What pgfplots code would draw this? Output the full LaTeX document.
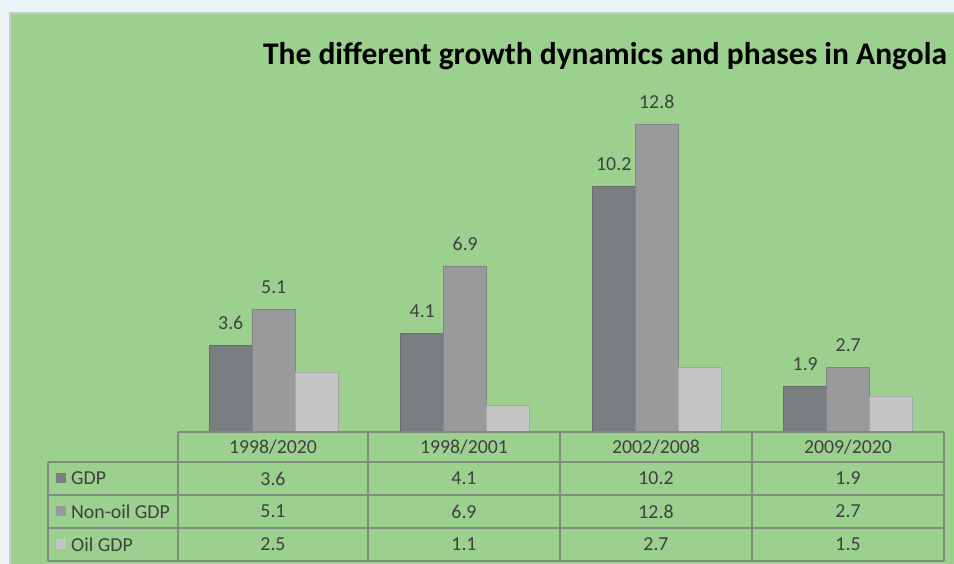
\documentclass[border=0pt]{standalone}
\usepackage{pgfplots}
\usepackage{pgfplotstable}
\pgfplotsset{compat=1.18}
\usepackage{fontspec}
\setmainfont{Carlito}
\definecolor{bgout}{HTML}{EAF4F6}
\definecolor{panel}{HTML}{9BD08F}
\definecolor{gdpc}{HTML}{7B7E80}
\definecolor{nonoilc}{HTML}{989A9C}
\definecolor{oilc}{HTML}{C4C5C5}
\definecolor{txt}{HTML}{404040}
\definecolor{grid}{HTML}{7F8A80}
\pgfplotstableread{
x gdp nonoil oil
1 3.6 5.1 2.5
2 4.1 6.9 1.1
3 10.2 12.8 2.7
4 1.9 2.7 1.5
}\data
\newcommand{\tf}{\fontsize{19.8}{22}\selectfont}
\begin{document}
\begin{tikzpicture}[x=1pt,y=1pt]
\path[use as bounding box] (0,0) rectangle (954,564);
\fill[bgout] (0,0) rectangle (954,564);
\filldraw[fill=panel,draw=black!20,line width=1.5pt] (10,-10) rectangle (975,551);
\node[font=\fontsize{31.5}{36}\selectfont\bfseries,text=black] at (605,508) {The different growth dynamics and phases in Angola};
\begin{axis}[
  at={(178pt,132pt)}, anchor=south west,
  scale only axis, width=766pt, height=336.9pt,
  xmin=0.5, xmax=4.5, ymin=0, ymax=14,
  hide axis, clip=false,
  ybar=0pt, bar width=43pt,
  nodes near coords style={font=\tf, text=txt, yshift=12pt},
]
\addplot[fill=gdpc, draw=gdpc!85!black, line width=0.6pt, nodes near coords, point meta=explicit symbolic] table[x=x,y=gdp,meta=gdp] {\data};
\addplot[fill=nonoilc, draw=nonoilc!85!black, line width=0.6pt, nodes near coords, point meta=explicit symbolic] table[x=x,y=nonoil,meta=nonoil] {\data};
\addplot[fill=oilc, draw=oilc!85!black, line width=0.6pt] table[x=x,y=oil] {\data};
\end{axis}
% data table
\begin{scope}[draw=grid, line width=1.3pt]
\draw (178,132) -- (944,132);
\draw (48,102) -- (944,102);
\draw (48,69) -- (944,69);
\draw (48,36) -- (944,36);
\draw (48,3) -- (944,3);
\draw (48,102) -- (48,3);
\foreach \xx in {178,368,560,752,944} {\draw (\xx,132) -- (\xx,3);}
\end{scope}
\begin{scope}[every node/.style={font=\tf, text=txt}]
\node at (273,117) {1998/2020};
\node at (464,117) {1998/2001};
\node at (656,117) {2002/2008};
\node at (848,117) {2009/2020};
\node at (273,85.5) {3.6};
\node at (464,85.5) {4.1};
\node at (656,85.5) {10.2};
\node at (848,85.5) {1.9};
\node at (273,52.5) {5.1};
\node at (464,52.5) {6.9};
\node at (656,52.5) {12.8};
\node at (848,52.5) {2.7};
\node at (273,19.5) {2.5};
\node at (464,19.5) {1.1};
\node at (656,19.5) {2.7};
\node at (848,19.5) {1.5};
\fill[gdpc] (56,80.5) rectangle (66,90.5);
\fill[nonoilc] (56,47.5) rectangle (66,57.5);
\fill[oilc] (56,14.5) rectangle (66,24.5);
\node[anchor=west,inner sep=0pt] at (71,85.5) {GDP};
\node[anchor=west,inner sep=0pt] at (71,52.5) {Non-oil GDP};
\node[anchor=west,inner sep=0pt] at (71,19.5) {Oil GDP};
\end{scope}
\end{tikzpicture}
\end{document}
